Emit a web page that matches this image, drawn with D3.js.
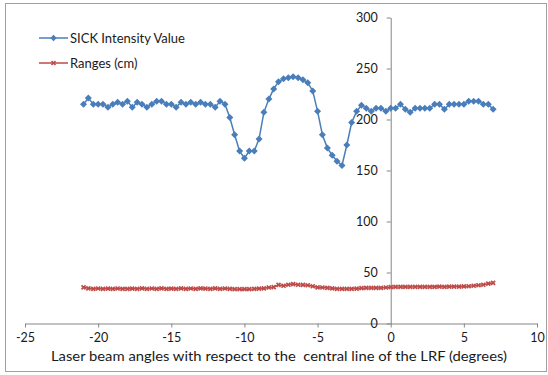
<!DOCTYPE html>
<html><head><meta charset="utf-8">
<script src="https://cdn.jsdelivr.net/npm/d3@7"></script>
<style>
html,body{margin:0;padding:0;background:#fff;}
svg{display:block;font-family:Lato,"Open Sans",sans-serif;}
</style></head>
<body>
<script>
// Angles (degrees), 1/3 degree steps from -21 to 7
const angles = [
 -21.00,-20.67,-20.33,-20.00,-19.67,-19.33,-19.00,-18.67,-18.33,-18.00,
 -17.67,-17.33,-17.00,-16.67,-16.33,-16.00,-15.67,-15.33,-15.00,-14.67,
 -14.33,-14.00,-13.67,-13.33,-13.00,-12.67,-12.33,-12.00,-11.67,-11.33,
 -11.00,-10.67,-10.33,-10.00,-9.67,-9.33,-9.00,-8.67,-8.33,-8.00,
 -7.67,-7.33,-7.00,-6.67,-6.33,-6.00,-5.67,-5.33,-5.00,-4.67,
 -4.33,-4.00,-3.67,-3.33,-3.00,-2.67,-2.33,-2.00,-1.67,-1.33,
 -1.00,-0.67,-0.33,0.00,0.33,0.67,1.00,1.33,1.67,2.00,
 2.33,2.67,3.00,3.33,3.67,4.00,4.33,4.67,5.00,5.33,
 5.67,6.00,6.33,6.67,7.00
];
const intensity = [
 215,221,215,215,215,212,215,217,215,218,
 212,217,215,212,215,218,218,215,215,212,
 217,215,217,215,217,215,215,212,218,215,
 202,185,169,162,169,169,181,207,220,230,
 237,240,241,242,241,239,236,228,208,185,
 172,165,159,155,175,197,208,214,211,208,
 211,211,208,211,211,215,210,207,211,211,
 211,211,215,215,210,215,215,215,215,218,
 218,218,215,215,210
];
const ranges = [
 35.5,34.5,34.0,34.3,34.0,34.2,34.0,34.3,34.0,34.0,
 34.2,34.0,34.5,34.0,34.3,34.0,34.5,34.0,34.2,34.0,
 34.5,34.0,34.3,34.0,34.5,34.2,34.0,34.5,34.0,34.3,
 34.0,33.8,33.7,33.8,33.7,33.9,34.2,34.5,35.3,35.6,
 37.8,37.0,38.0,38.6,38.0,37.8,37.5,36.5,35.5,35.3,
 35.0,34.5,34.0,34.0,33.9,34.0,34.2,34.6,34.9,34.9,
 35.0,34.9,35.3,35.6,35.9,35.9,36.0,35.9,36.0,36.0,
 35.9,36.0,36.0,36.1,36.0,36.1,36.2,36.2,36.3,36.5,
 37.0,37.5,38.0,39.0,39.8
];
const xTicks = [-25,-20,-15,-10,-5,0,5,10];
const yTicks = [0,50,100,150,200,250,300];
const seriesNames = ["SICK Intensity Value","Ranges (cm)"];
const xTitle = "Laser beam angles with respect to the  central line of the LRF (degrees)";

const W = 548, H = 375;
const blue = "#4a7ebb", red = "#be4b48", axisCol = "#868686";
const svg = d3.select("body").append("svg").attr("width", W).attr("height", H);

svg.append("rect").attr("x",5.5).attr("y",3.5).attr("width",541).attr("height",368)
  .attr("fill","#fff").attr("stroke","#a0a0a0").attr("stroke-width",1);

const x = d3.scaleLinear().domain([-25,10]).range([25,537]);
const y = d3.scaleLinear().domain([0,300]).range([323.5,17.5]);

// X axis
const gx = svg.append("g").attr("transform",`translate(0,${y(0)})`)
  .call(d3.axisBottom(x).tickValues(xTicks).tickSize(4).tickSizeOuter(0).tickPadding(6).tickFormat(d=>String(d)));
gx.select(".domain").attr("stroke",axisCol);
gx.selectAll(".tick line").attr("stroke",axisCol);
gx.selectAll(".tick text").attr("font-size",12.5).attr("fill","#1a1a1a").attr("font-family","Lato,sans-serif");

// Y axis
const gy = svg.append("g").attr("transform",`translate(${x(0)},0)`)
  .call(d3.axisLeft(y).tickValues(yTicks).tickSize(4).tickSizeOuter(0).tickPadding(9).tickFormat(d=>String(d)));
gy.select(".domain").attr("stroke",axisCol);
gy.selectAll(".tick line").attr("stroke",axisCol);
gy.selectAll(".tick text").attr("font-size",12.5).attr("fill","#1a1a1a").attr("font-family","Lato,sans-serif");

// x title
svg.append("text").attr("x",279).attr("y",361).attr("text-anchor","middle")
  .attr("font-size",13).attr("fill","#1a1a1a").style("white-space","pre")
  .attr("textLength",456).attr("lengthAdjust","spacingAndGlyphs")
  .text(xTitle);

const data = angles.map((a,i)=>({a, b:intensity[i], r:ranges[i]}));
const diamond = r => `M0,${-r}L${r},0L0,${r}L${-r},0Z`;
const xmark = r => `M${-r},${-r}L${r},${r}M${-r},${r}L${r},${-r}`;

// Ranges series
svg.append("path").datum(data).attr("fill","none").attr("stroke",red).attr("stroke-width",1.5)
  .attr("d", d3.line().x(d=>x(d.a)).y(d=>y(d.r)));
svg.append("g").selectAll("path").data(data).join("path")
  .attr("transform",d=>`translate(${x(d.a)},${y(d.r)})`)
  .attr("d", xmark(2)).attr("stroke",red).attr("stroke-width",1.7).attr("fill","none");

// Intensity series
svg.append("path").datum(data).attr("fill","none").attr("stroke",blue).attr("stroke-width",1.5)
  .attr("d", d3.line().x(d=>x(d.a)).y(d=>y(d.b)));
svg.append("g").selectAll("path").data(data).join("path")
  .attr("transform",d=>`translate(${x(d.a)},${y(d.b)})`)
  .attr("d", diamond(3.5)).attr("fill",blue);

// Legend
const leg = svg.append("g");
const legItems = [{name:seriesNames[0], col:blue, y:38, m:"d"},{name:seriesNames[1], col:red, y:63, m:"x"}];
legItems.forEach(it=>{
  leg.append("line").attr("x1",39).attr("x2",68).attr("y1",it.y).attr("y2",it.y)
    .attr("stroke",it.col).attr("stroke-width",1.5);
  if(it.m==="d") leg.append("path").attr("transform",`translate(53.5,${it.y})`).attr("d",diamond(3.2)).attr("fill",it.col);
  else leg.append("path").attr("transform",`translate(53.5,${it.y})`).attr("d",xmark(2)).attr("stroke",it.col).attr("stroke-width",1.6);
  leg.append("text").attr("x",70).attr("y",it.y+4.5).attr("font-size",13).attr("fill","#1a1a1a").text(it.name);
});
</script>
</body></html>
